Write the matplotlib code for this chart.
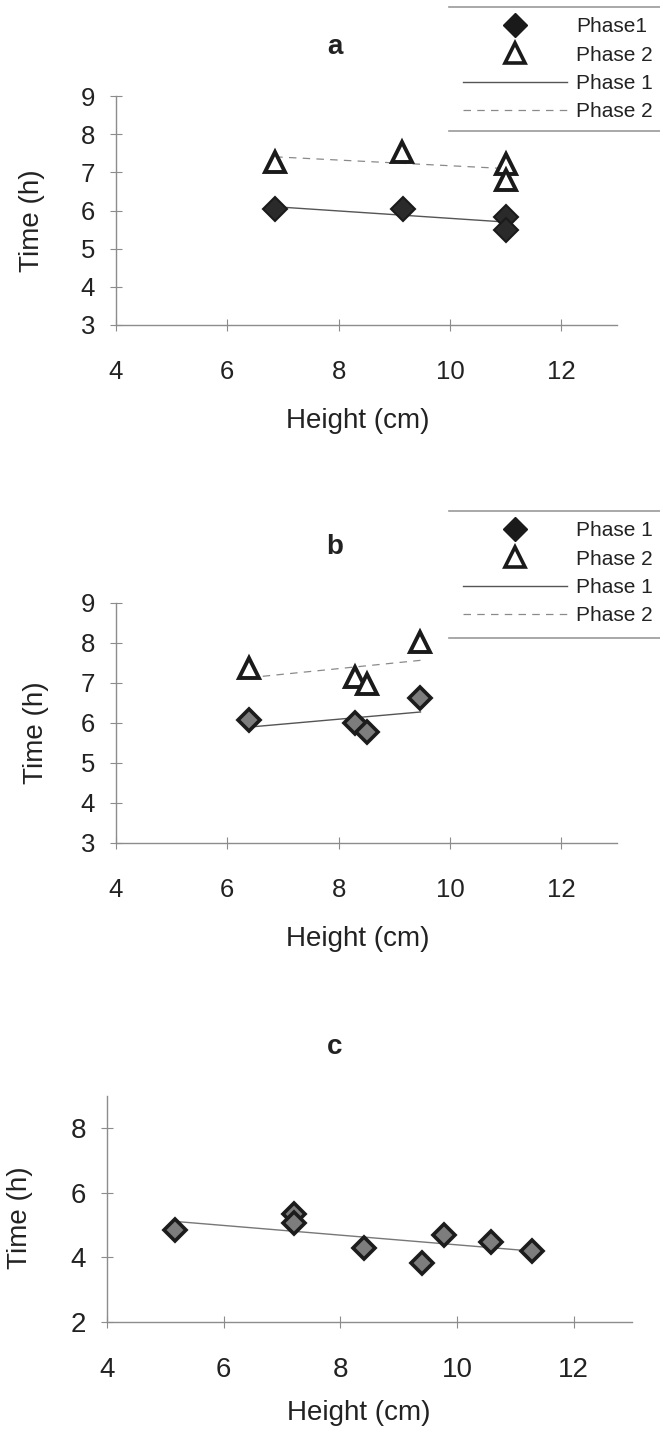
import numpy as np
import matplotlib.pyplot as plt
from matplotlib.lines import Line2D

plt.rcParams['font.family'] = ['Liberation Sans', 'DejaVu Sans']

# panel a: height (cm) vs time (h)
a_h1 = [6.86, 9.16, 11.0, 11.0]
a_t1 = [6.03, 6.03, 5.82, 5.49]
a_h2 = [6.86, 9.14, 11.0, 11.0]
a_t2 = [7.27, 7.54, 7.23, 6.80]

# panel b
b_h1 = [6.39, 8.29, 8.50, 9.47]
b_t1 = [6.07, 5.99, 5.78, 6.62]
b_h2 = [6.39, 8.29, 8.50, 9.47]
b_t2 = [7.37, 7.16, 6.97, 8.03]

# panel c
c_h = [5.16, 7.20, 7.20, 8.40, 9.40, 9.78, 10.59, 11.28]
c_t = [4.85, 5.36, 5.06, 4.30, 3.84, 4.69, 4.48, 4.19]

x_ticks = [4, 6, 8, 10, 12]
ab_yticks = [3, 4, 5, 6, 7, 8, 9]
c_yticks = [2, 4, 6, 8]
labels_a = ['Phase1', 'Phase 2', 'Phase 1', 'Phase 2']
labels_b = ['Phase 1', 'Phase 2', 'Phase 1', 'Phase 2']

W, H = 660, 1432
fig = plt.figure(figsize=(W / 100, H / 100), dpi=100)
fig.patch.set_facecolor('white')

def px_axes(x0, x1, ytop, ybot):
    return fig.add_axes([x0 / W, 1 - ybot / H, (x1 - x0) / W, (ybot - ytop) / H])

ax_a = px_axes(116, 617, 96, 325)
ax_b = px_axes(116, 617, 603, 843)
ax_c = px_axes(107, 632, 1096, 1322)

TXT = '#222222'
AX = '#8c8c8c'

def trend(ax, x, y, **kw):
    k, b = np.polyfit(x, y, 1)
    xs = np.array([min(x), max(x)])
    ax.plot(xs, k * xs + b, zorder=2, **kw)

def style(ax, ylim, yticks, tick_fs, lab_xy, ylab_xy):
    ax.set_xlim(4, 13)
    ax.set_ylim(*ylim)
    ax.set_xticks(x_ticks)
    ax.set_yticks(yticks)
    for s in ['top', 'right']:
        ax.spines[s].set_visible(False)
    for s in ['left', 'bottom']:
        ax.spines[s].set_color(AX)
        ax.spines[s].set_linewidth(1.0)
    ax.tick_params(direction='inout', length=8, width=0.8, color=AX,
                   labelsize=tick_fs, labelcolor=TXT)
    ax.tick_params(axis='x', pad=21)
    ax.tick_params(axis='y', pad=11)
    ax.set_xlabel('Height (cm)', fontsize=20, color=TXT)
    ax.set_ylabel('Time (h)', fontsize=20, color=TXT)
    ax.xaxis.set_label_coords(*lab_xy)
    ax.yaxis.set_label_coords(*ylab_xy)
    ax.set_facecolor('none')

dia_solid = dict(ls='none', marker='D', ms=12, mfc='#2a2a2a', mec='#1a1a1a', mew=1.5)
dia_grey = dict(ls='none', marker='D', ms=11, mfc='#7d7d7d', mec='#1c1c1c', mew=2.6)
tri = dict(ls='none', marker='^', ms=15, mfc='white', mec='#1a1a1a', mew=2.8)
line1 = dict(color='#555555', lw=1.0)
line2 = dict(color='#8a8a8a', lw=0.9, ls=(0, (6, 5)))

# panel a
trend(ax_a, a_h1, a_t1, **line1)
trend(ax_a, a_h2, a_t2, **line2)
ax_a.plot(a_h2, a_t2, zorder=3, **tri)
ax_a.plot(a_h1, a_t1, zorder=3, **dia_solid)
style(ax_a, (3, 9), ab_yticks, 18.5, (0.483, -0.362), (-0.142, 0.454))

# panel b
trend(ax_b, b_h1, b_t1, **line1)
trend(ax_b, b_h2, b_t2, **line2)
ax_b.plot(b_h2, b_t2, zorder=3, **tri)
ax_b.plot(b_h1, b_t1, zorder=3, **dia_grey)
style(ax_b, (3, 9), ab_yticks, 18.5, (0.483, -0.346), (-0.134, 0.458))

# panel c
trend(ax_c, c_h, c_t, color='#777777', lw=1.0)
ax_c.plot(c_h, c_t, zorder=3, **dia_grey)
style(ax_c, (2, 9), c_yticks, 20, (0.48, -0.345), (-0.141, 0.46))

# panel letters
for letter, y in [('a', 47), ('b', 547), ('c', 1047)]:
    fig.text(335 / W, 1 - y / H, letter, ha='center', va='center',
             fontsize=20, fontweight='bold', color=TXT)

def legend_handles():
    return [Line2D([], [], ls='none', marker='D', ms=12, mfc='#1a1a1a', mec='#1a1a1a'),
            Line2D([], [], ls='none', marker='^', ms=14, mfc='white', mec='#1a1a1a', mew=2.6),
            Line2D([], [], **line1),
            Line2D([], [], **line2)]

for labels, top, bottom in [(labels_a, 7, 131), (labels_b, 511, 638)]:
    fig.legend(legend_handles(), labels, loc='upper left',
               bbox_to_anchor=(457 / W, 1 - (top + 4) / H), frameon=False,
               fontsize=15, handlelength=5, handletextpad=0.4,
               labelspacing=0.45, borderpad=0.3, borderaxespad=0,
               labelcolor=TXT)
    for yy in (top, bottom):
        fig.add_artist(Line2D([449 / W, 1.0], [1 - yy / H] * 2,
                              transform=fig.transFigure, color='#9a9a9a', lw=1.2))

fig.savefig('out.png', dpi=100, facecolor='white')
